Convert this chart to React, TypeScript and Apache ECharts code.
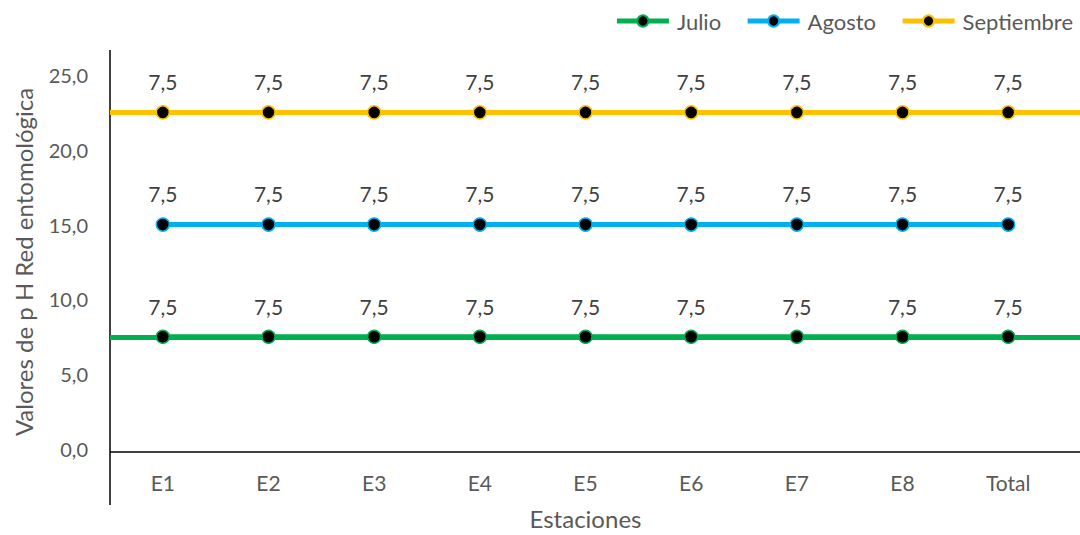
import React, { useEffect, useRef } from "react";
import * as echarts from "echarts";

// Stations on the category axis
const categories = ["E1", "E2", "E3", "E4", "E5", "E6", "E7", "E8", "Total"];

// pH values per month (stacked)
const julio = [7.5, 7.5, 7.5, 7.5, 7.5, 7.5, 7.5, 7.5, 7.5];
const agosto = [7.5, 7.5, 7.5, 7.5, 7.5, 7.5, 7.5, 7.5, 7.5];
const septiembre = [7.5, 7.5, 7.5, 7.5, 7.5, 7.5, 7.5, 7.5, 7.5];

// Value axis ticks
const yTicks = [0, 5, 10, 15, 20, 25];

const W = 1080;
const H = 535;
const GRID_LEFT = 110;
const GRID_TOP = 75;
const GRID_WIDTH = 951;
const GRID_HEIGHT = 377;
const FONT = "Lato, 'Liberation Sans', sans-serif";
const TEXT = "#595959";

const fmt = (v: number) => v.toFixed(1).replace(".", ",");

export default function App() {
  const ref = useRef<HTMLDivElement>(null);

  useEffect(() => {
    if (!ref.current) return;
    const chart = echarts.init(ref.current, undefined, { renderer: "svg" });

    const months = [
      { name: "Julio", data: julio, color: "#00B050", extend: true },
      { name: "Agosto", data: agosto, color: "#00B0F0", extend: false },
      { name: "Septiembre", data: septiembre, color: "#FFC000", extend: true },
    ];

    // running level of each stacked line (first point), used for the full-width rules
    let level = 0;
    const series = months.map((m) => {
      level += m.data[0];
      const lvl = level;
      return {
        name: m.name,
        type: "line",
        stack: "ph",
        data: m.data,
        clip: false,
        symbol: "circle",
        symbolSize: 13,
        z: 3,
        lineStyle: { width: 5, color: m.color },
        itemStyle: { color: "#000000", borderColor: m.color, borderWidth: 1.5 },
        label: {
          show: true,
          position: "top",
          distance: 13,
          formatter: (p: any) => fmt(p.value as number),
          fontFamily: FONT,
          fontSize: 21,
          color: "#404040",
        },
        markLine: m.extend
          ? {
              silent: true,
              z: 1,
              symbol: "none",
              label: { show: false },
              lineStyle: { color: m.color, width: 5, type: "solid" },
              emphasis: { disabled: true },
              data: [[{ x: GRID_LEFT, yAxis: lvl }, { x: W, yAxis: lvl }]],
            }
          : undefined,
      };
    });

    chart.setOption({
      animation: false,
      textStyle: { fontFamily: FONT },
      legend: {
        top: 5,
        right: 2,
        itemWidth: 52,
        itemHeight: 14,
        itemGap: 24,
        lineStyle: { width: 5 },
        textStyle: { fontFamily: FONT, fontSize: 22, color: TEXT, padding: [0, 0, 0, 3] },
        data: months.map((m) => m.name),
      },
      grid: {
        left: GRID_LEFT,
        top: GRID_TOP,
        width: GRID_WIDTH,
        height: GRID_HEIGHT,
        containLabel: false,
      },
      xAxis: {
        type: "category",
        data: categories,
        boundaryGap: true,
        axisLine: { show: false },
        axisTick: { show: false },
        axisLabel: { margin: 23, fontFamily: FONT, fontSize: 21, color: TEXT },
        name: "Estaciones",
        nameLocation: "middle",
        nameGap: 57,
        nameTextStyle: { fontFamily: FONT, fontSize: 24, color: TEXT },
      },
      yAxis: {
        type: "value",
        min: yTicks[0],
        max: yTicks[yTicks.length - 1],
        interval: yTicks[1] - yTicks[0],
        axisLine: { show: false },
        axisTick: { show: false },
        splitLine: { show: false },
        axisLabel: {
          margin: 22,
          fontFamily: FONT,
          fontSize: 20,
          color: TEXT,
          formatter: (v: number) => fmt(v),
        },
        name: "Valores de p H Red entomológica",
        nameLocation: "middle",
        nameRotate: 90,
        nameGap: 75,
        nameTextStyle: { fontFamily: FONT, fontSize: 24, color: TEXT },
      },
      graphic: [
        {
          type: "line",
          silent: true,
          shape: { x1: GRID_LEFT, y1: 50, x2: GRID_LEFT, y2: 505 },
          style: { stroke: "#000000", lineWidth: 1.5 },
        },
        {
          type: "line",
          silent: true,
          shape: { x1: GRID_LEFT, y1: GRID_TOP + GRID_HEIGHT, x2: W, y2: GRID_TOP + GRID_HEIGHT },
          style: { stroke: "#000000", lineWidth: 1.5 },
        },
      ],
      series,
    });

    return () => chart.dispose();
  }, []);

  return (
    <div
      ref={ref}
      style={{ position: "fixed", left: 0, top: 0, width: W, height: H, background: "#ffffff" }}
    />
  );
}
